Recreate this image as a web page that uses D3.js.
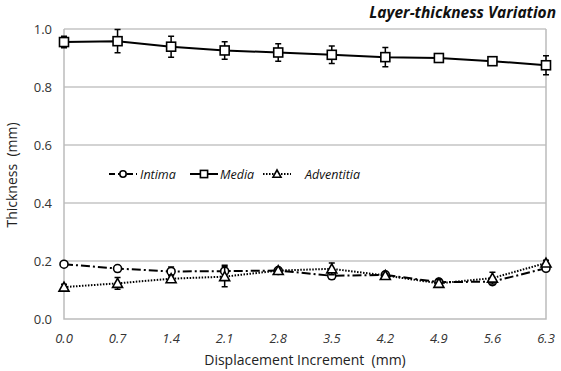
<!DOCTYPE html>
<html>
<head>
<meta charset="utf-8">
<script src="https://cdn.jsdelivr.net/npm/d3@7"></script>
<style>
body { margin: 0; background: #fff; }
text { font-family: "Open Sans", "DejaVu Sans", sans-serif; }
</style>
</head>
<body>
<script>
"use strict"

var displacement = [0.0, 0.7, 1.4, 2.1, 2.8, 3.5, 4.2, 4.9, 5.6, 6.3];
var xTickLabels = ["0.0", "0.7", "1.4", "2.1", "2.8", "3.5", "4.2", "4.9", "5.6", "6.3"];
var yTicks = [0.0, 0.2, 0.4, 0.6, 0.8, 1.0];

var media = [0.955, 0.958, 0.939, 0.926, 0.919, 0.911, 0.903, 0.900, 0.889, 0.875];
var mediaErr = [0.02, 0.04, 0.036, 0.03, 0.03, 0.03, 0.033, 0.01, 0.01, 0.033];
var intima = [0.189, 0.174, 0.164, 0.165, 0.167, 0.149, 0.152, 0.127, 0.129, 0.175];
var intimaErr = [0.005, 0.01, 0.015, 0.02, 0.008, 0.012, 0.008, 0.01, 0.01, 0.01];
var adventitia = [0.110, 0.123, 0.139, 0.146, 0.167, 0.173, 0.150, 0.123, 0.141, 0.193];
var adventitiaErr = [0.01, 0.02, 0.012, 0.035, 0.005, 0.02, 0.005, 0.012, 0.02, 0.01];

var width = 561, height = 371;
var margin = {top: 29, right: 15, bottom: 52, left: 64};

var svg = d3.select("body").append("svg")
    .attr("width", width)
    .attr("height", height);

var x = d3.scaleLinear().domain([0, 6.3]).range([margin.left, 546]);
var y = d3.scaleLinear().domain([0, 1]).range([319, margin.top]);

// gridlines
svg.append("g").selectAll("line")
    .data(yTicks.slice(1))
  .enter().append("line")
    .attr("x1", x(0)).attr("x2", x(6.3))
    .attr("y1", function(d) { return y(d); })
    .attr("y2", function(d) { return y(d); })
    .attr("stroke", "#c4c4c4")
    .attr("stroke-width", 1.3);

// frame: left, bottom, right
svg.append("path")
    .attr("d", "M" + x(0) + "," + y(1) + "V" + y(0) + "H" + x(6.3) + "V" + y(1))
    .attr("fill", "none")
    .attr("stroke", "#bcbcbc")
    .attr("stroke-width", 1.5);

// y tick labels
svg.append("g").selectAll("text")
    .data(yTicks)
  .enter().append("text")
    .attr("x", 52)
    .attr("y", function(d) { return y(d) + 5; })
    .attr("text-anchor", "end")
    .attr("font-size", "13px")
    .attr("fill", "#333")
    .text(function(d) { return d.toFixed(1); });

// x tick labels
svg.append("g").selectAll("text")
    .data(displacement)
  .enter().append("text")
    .attr("x", function(d) { return x(d); })
    .attr("y", 343)
    .attr("text-anchor", "middle")
    .attr("font-size", "13px")
    .attr("font-style", "italic")
    .attr("fill", "#333")
    .text(function(d, i) { return xTickLabels[i]; });

// axis titles
svg.append("text")
    .attr("x", 305).attr("y", 365)
    .attr("text-anchor", "middle")
    .attr("font-size", "14px")
    .attr("fill", "#222")
    .attr("xml:space", "preserve")
    .text("Displacement Increment  (mm)");

svg.append("text")
    .attr("transform", "translate(17,175) rotate(-90)")
    .attr("text-anchor", "middle")
    .attr("font-size", "14px")
    .attr("fill", "#222")
    .attr("xml:space", "preserve")
    .text("Thickness  (mm)");

svg.append("text")
    .attr("x", 556).attr("y", 18)
    .attr("text-anchor", "end")
    .attr("font-size", "15.5px")
    .attr("font-weight", "bold")
    .attr("font-style", "italic")
    .attr("fill", "#111")
    .text("Layer-thickness Variation");

var series = [
    {name: "Intima", values: intima, err: intimaErr, dash: "9,3,2,3", shape: "circle"},
    {name: "Media", values: media, err: mediaErr, dash: null, shape: "square"},
    {name: "Adventitia", values: adventitia, err: adventitiaErr, dash: "1.5,1.5", shape: "triangle"}
];

function drawMarker(g, shape, cx, cy, k) {
    k = k || 1;
    if (shape == "circle") {
        g.append("circle").attr("cx", cx).attr("cy", cy).attr("r", 4 * k)
            .attr("fill", "#fff").attr("stroke", "#000").attr("stroke-width", 1.6);
    } else if (shape == "square") {
        g.append("rect").attr("x", cx - 4.5 * k).attr("y", cy - 4.5 * k)
            .attr("width", 9 * k).attr("height", 9 * k)
            .attr("fill", "#fff").attr("stroke", "#000").attr("stroke-width", 1.6);
    } else {
        g.append("path")
            .attr("d", "M" + cx + "," + (cy - 5 * k) + "L" + (cx + 5 * k) + "," + (cy + 4 * k) + "L" + (cx - 5 * k) + "," + (cy + 4 * k) + "Z")
            .attr("fill", "#fff").attr("stroke", "#000").attr("stroke-width", 1.6);
    }
}

var line = d3.line()
    .x(function(d) { return x(d[0]); })
    .y(function(d) { return y(d[1]); });

series.forEach(function(s) {
    var g = svg.append("g");
    var pts = displacement.map(function(d, i) { return [d, s.values[i]]; });
    g.append("path")
        .attr("d", line(pts))
        .attr("fill", "none")
        .attr("stroke", "#000")
        .attr("stroke-width", 2)
        .attr("stroke-dasharray", s.dash);
    pts.forEach(function(p, i) {
        var px = x(p[0]), y1 = y(p[1] + s.err[i]), y2 = y(p[1] - s.err[i]);
        g.append("path")
            .attr("d", "M" + px + "," + y1 + "V" + y2 + "M" + (px - 3) + "," + y1 + "H" + (px + 3) + "M" + (px - 3) + "," + y2 + "H" + (px + 3))
            .attr("stroke", "#000")
            .attr("stroke-width", 1.5)
            .attr("fill", "none");
        drawMarker(g, s.shape, px, y(p[1]));
    });
});

// legend
var legendX = [109, 190, 263];
var legendTextX = [140, 220, 305];
series.forEach(function(s, i) {
    var g = svg.append("g");
    var ly = 174;
    g.append("line")
        .attr("x1", legendX[i]).attr("x2", legendX[i] + 28)
        .attr("y1", ly).attr("y2", ly)
        .attr("stroke", "#000").attr("stroke-width", 2)
        .attr("stroke-dasharray", s.dash ? (s.shape == "circle" ? "6,3" : s.dash) : null);
    drawMarker(g, s.shape, legendX[i] + 14, ly, 0.8);
    g.append("text")
        .attr("x", legendTextX[i]).attr("y", ly + 4.5)
        .attr("font-size", "12.5px")
        .attr("font-style", "italic")
        .attr("fill", "#111")
        .text(s.name);
});
</script>
</body>
</html>
